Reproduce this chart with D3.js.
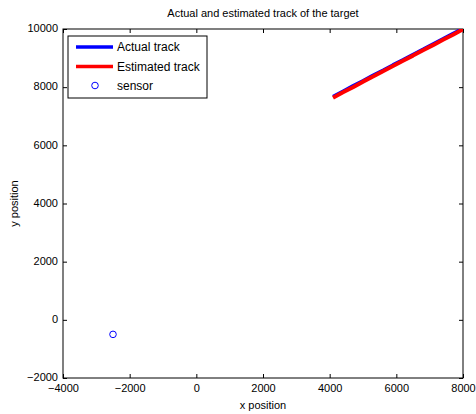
<!DOCTYPE html>
<html>
<head>
<meta charset="utf-8">
<script src="https://cdn.jsdelivr.net/npm/d3@7/dist/d3.min.js"></script>
<style>
  html, body { margin: 0; padding: 0; background: #fff; }
  svg text { font-family: "Liberation Sans", Arial, sans-serif; fill: #000; }
</style>
</head>
<body>
<svg id="chart" width="476" height="414"></svg>
<script>
// Target track (actual vs. estimated) and sensor location
const actualX = [4100, 4400, 4700, 5000, 5300, 5600, 5900, 6200, 6500, 6800, 7100, 7400, 7700, 8000];
const actualY = [7680, 7860, 8045, 8220, 8405, 8580, 8765, 8940, 9125, 9300, 9485, 9660, 9845, 10020];
const estX = [4100, 4400, 4700, 5000, 5300, 5600, 5900, 6200, 6500, 6800, 7100, 7400, 7700, 8000];
const estY = [7640, 7825, 8000, 8190, 8365, 8550, 8725, 8910, 9085, 9270, 9445, 9630, 9805, 9990];
const sensorX = [-2500];
const sensorY = [-500];

const xTicks = [-4000, -2000, 0, 2000, 4000, 6000, 8000];
const yTicks = [-2000, 0, 2000, 4000, 6000, 8000, 10000];
const legendLabels = ["Actual track", "Estimated track", "sensor"];

const svg = d3.select("#chart");
const pLeft = 63, pRight = 463, pTop = 29, pBottom = 378;

const x = d3.scaleLinear().domain([-4000, 8000]).range([pLeft, pRight]);
const y = d3.scaleLinear().domain([-2000, 10000]).range([pBottom, pTop]);

svg.append("clipPath").attr("id", "plotclip")
  .append("rect").attr("x", pLeft).attr("y", pTop)
  .attr("width", pRight - pLeft).attr("height", pBottom - pTop);

// Axes with inward ticks on all four sides
const tickLen = 4;
svg.append("g").attr("transform", `translate(0,${pBottom})`)
  .call(d3.axisBottom(x).tickValues(xTicks).tickSize(-tickLen).tickPadding(5).tickFormat(d3.format("d")))
  .call(g => g.select(".domain").remove())
  .call(g => g.selectAll("text").attr("font-size", 11).attr("dy", "0.85em"));
svg.append("g").attr("transform", `translate(0,${pTop})`)
  .call(d3.axisTop(x).tickValues(xTicks).tickSize(-tickLen).tickFormat(""))
  .call(g => g.select(".domain").remove());
svg.append("g").attr("transform", `translate(${pLeft},0)`)
  .call(d3.axisLeft(y).tickValues(yTicks).tickSize(-tickLen).tickPadding(5).tickFormat(d3.format("d")))
  .call(g => g.select(".domain").remove())
  .call(g => g.selectAll("text").attr("font-size", 11).attr("dy", "0.25em"));
svg.append("g").attr("transform", `translate(${pRight},0)`)
  .call(d3.axisRight(y).tickValues(yTicks).tickSize(-tickLen).tickFormat(""))
  .call(g => g.select(".domain").remove());

svg.selectAll(".tick line").attr("stroke", "#000");

svg.append("rect").attr("x", pLeft).attr("y", pTop)
  .attr("width", pRight - pLeft).attr("height", pBottom - pTop)
  .attr("fill", "none").attr("stroke", "#000").attr("stroke-width", 1);

// Tracks
const plot = svg.append("g").attr("clip-path", "url(#plotclip)");
const line = d3.line().x(d => x(d[0])).y(d => y(d[1]));
const actual = actualX.map((v, i) => [v, actualY[i]]);
const est = estX.map((v, i) => [v, estY[i]]);

plot.append("path").datum(actual).attr("d", line)
  .attr("fill", "none").attr("stroke", "#0000ff").attr("stroke-width", 3.5)
  .attr("stroke-linejoin", "round");
plot.append("path").datum(est).attr("d", line)
  .attr("fill", "none").attr("stroke", "#ff0000").attr("stroke-width", 4)
  .attr("stroke-linejoin", "round");

// Sensor
plot.selectAll("circle.sensor").data(sensorX.map((v, i) => [v, sensorY[i]]))
  .enter().append("circle").attr("class", "sensor")
  .attr("cx", d => x(d[0])).attr("cy", d => y(d[1])).attr("r", 3.3)
  .attr("fill", "none").attr("stroke", "#0000ff").attr("stroke-width", 1);

// Title and axis labels
svg.append("text").attr("x", (pLeft + pRight) / 2).attr("y", 17)
  .attr("text-anchor", "middle").attr("font-size", 11)
  .text("Actual and estimated track of the target");
svg.append("text").attr("x", (pLeft + pRight) / 2).attr("y", 409)
  .attr("text-anchor", "middle").attr("font-size", 11).text("x position");
svg.append("text").attr("transform", `translate(18,${(pTop + pBottom) / 2}) rotate(-90)`)
  .attr("text-anchor", "middle").attr("font-size", 11).text("y position");

// Legend
const lg = svg.append("g");
lg.append("rect").attr("x", 68).attr("y", 36).attr("width", 139).attr("height", 62)
  .attr("fill", "#fff").attr("stroke", "#000").attr("stroke-width", 1);
const rows = [47, 66.5, 85.5];
lg.append("line").attr("x1", 76).attr("x2", 113).attr("y1", rows[0]).attr("y2", rows[0])
  .attr("stroke", "#0000ff").attr("stroke-width", 3.5);
lg.append("line").attr("x1", 76).attr("x2", 113).attr("y1", rows[1]).attr("y2", rows[1])
  .attr("stroke", "#ff0000").attr("stroke-width", 3.5);
lg.append("circle").attr("cx", 95).attr("cy", rows[2]).attr("r", 3.3)
  .attr("fill", "none").attr("stroke", "#0000ff").attr("stroke-width", 1);
lg.selectAll("text.lab").data(legendLabels).enter().append("text").attr("class", "lab")
  .attr("x", 117).attr("y", (d, i) => rows[i]).attr("dy", "0.35em")
  .attr("font-size", 12).text(d => d);
</script>
</body>
</html>
